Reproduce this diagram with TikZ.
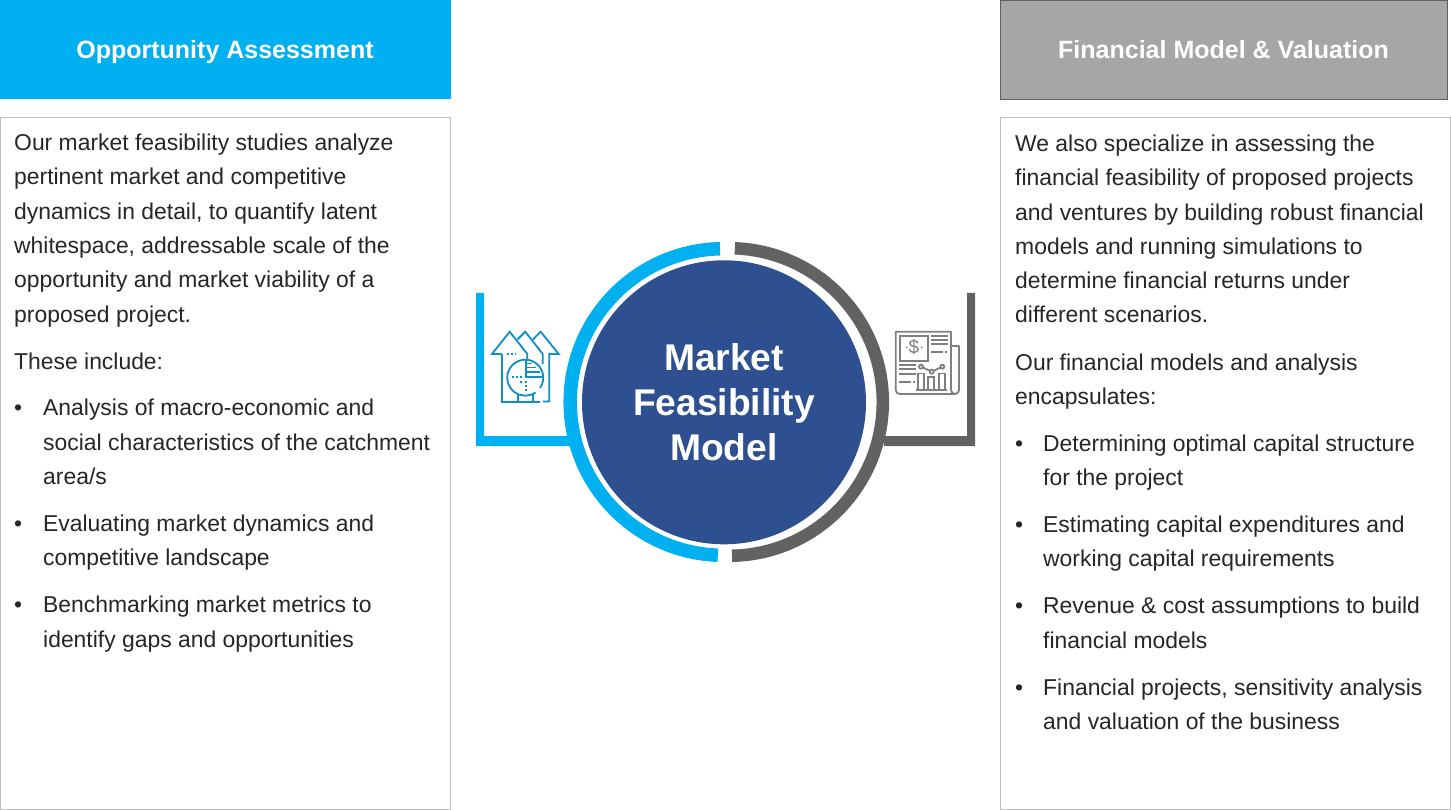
\documentclass[tikz,border=0pt]{standalone}
\usepackage{fontspec}
\setmainfont{Liberation Sans}
\definecolor{hblue}{HTML}{00B0F0}
\definecolor{hgray}{HTML}{A6A6A6}
\definecolor{navy}{HTML}{2E5090}
\definecolor{dgray}{HTML}{626262}
\definecolor{txt}{HTML}{262626}
\definecolor{edge}{HTML}{BFBFBF}
\definecolor{iblue}{HTML}{0F8FC8}
\definecolor{igray}{HTML}{7F7F7F}
\tikzset{
 x=1pt,y=-1pt,
 body/.style={anchor=base west,inner sep=0pt,text=txt,font=\fontsize{22.9}{34.3}\selectfont},
 head/.style={anchor=base,inner sep=0pt,text=white,font=\fontsize{25}{30}\selectfont\bfseries},
 panel/.style={draw=edge,fill=white,line width=1pt},
 ibl/.style={draw=iblue,line width=1.8pt},
 igr/.style={draw=igray,line width=1.8pt},
}
\begin{document}
\begin{tikzpicture}
\useasboundingbox (0,0) rectangle (1451,810);
\fill[white] (0,0) rectangle (1451,810);
% headers
\fill[hblue] (0,0) rectangle (451,99);
\node[head] (h1) at (225,58.7) {Opportunity Assessment};
\draw[draw=dgray,fill=hgray,line width=1pt] (1000.5,0.5) rectangle (1447.5,99.5);
\node[head] (h2) at (1223.5,58.7) {Financial Model \& Valuation};
% panels
\draw[panel] (0.5,117.5) rectangle (450.5,809.5);
\draw[panel] (1000.5,117.5) rectangle (1450.5,809.5);
% left text
\node[body] (a1) at (14,151) {Our market feasibility studies analyze};
\node[body] (a2) at (14,185) {pertinent market and competitive};
\node[body] (a3) at (14,220) {dynamics in detail, to quantify latent};
\node[body] (a4) at (14,254) {whitespace, addressable scale of the};
\node[body] (a5) at (14,288) {opportunity and market viability of a};
\node[body] (a6) at (14,323) {proposed project.};
\node[body] (a7) at (14,369) {These include:};
\node[body] (ab1) at (14,415) {•};
\node[body] (a8) at (43,415) {Analysis of macro-economic and};
\node[body] (a9) at (43,450) {social characteristics of the catchment};
\node[body] (a10) at (43,484) {area/s};
\node[body] (ab2) at (14,531) {•};
\node[body] (a11) at (43,531) {Evaluating market dynamics and};
\node[body] (a12) at (43,565) {competitive landscape};
\node[body] (ab3) at (14,612) {•};
\node[body] (a13) at (43,612) {Benchmarking market metrics to};
\node[body] (a14) at (43,647) {identify gaps and opportunities};
% right text
\node[body] (b1) at (1015,152) {We also specialize in assessing the};
\node[body] (b2) at (1015,186) {financial feasibility of proposed projects};
\node[body] (b3) at (1015,221) {and ventures by building robust financial};
\node[body] (b4) at (1015,255) {models and running simulations to};
\node[body] (b5) at (1015,289) {determine financial returns under};
\node[body] (b6) at (1015,323) {different scenarios.};
\node[body] (b7) at (1015,370) {Our financial models and analysis};
\node[body] (b8) at (1015,404) {encapsulates:};
\node[body] (bb1) at (1015,451) {•};
\node[body] (b9) at (1043,451) {Determining optimal capital structure};
\node[body] (b10) at (1043,485) {for the project};
\node[body] (bb2) at (1015,532) {•};
\node[body] (b11) at (1043,532) {Estimating capital expenditures and};
\node[body] (b12) at (1043,566) {working capital requirements};
\node[body] (bb3) at (1015,613) {•};
\node[body] (b13) at (1043,613) {Revenue \& cost assumptions to build};
\node[body] (b14) at (1043,648) {financial models};
\node[body] (bb4) at (1015,695) {•};
\node[body] (b15) at (1043,695) {Financial projects, sensitivity analysis};
\node[body] (b16) at (1043,729) {and valuation of the business};
% brackets
\fill[hblue] (476,293) -- (484,293) -- (484,436) -- (575,436) -- (575,446) -- (476,446) -- cycle;
\fill[dgray] (967,293) -- (975,293) -- (975,446) -- (884,446) -- (884,436) -- (967,436) -- cycle;
% rings
\coordinate (cb) at (723.5,402);
\coordinate (cg) at (729,402);
\draw[hblue,line width=13.5pt] ([shift={(-91.3:153.3)}]cb) arc[start angle=-91.3,end angle=-267.9,radius=153.3];
\draw[dgray,line width=12.5pt] ([shift={(-87.8:153.8)}]cg) arc[start angle=-87.8,end angle=88.9,radius=153.8];
% central disc
\node[circle,fill=navy,minimum size=284pt,inner sep=0pt,
      font=\fontsize{37.2}{45}\selectfont\bfseries,text=white,align=center] (c) at (724,402.3)
      {Market\\Feasibility\\Model};
% left icon
\draw[ibl] (501.7,354) -- (492,354) -- (509.7,331.7) -- (527.3,354) -- (527.3,360);
\draw[ibl] (517.5,339.5) -- (525.3,331.7) -- (542.7,354) -- (542.7,364);
\draw[ibl] (533,339.5) -- (540.7,331.7) -- (558.7,354) -- (549.3,354) -- (549.3,401.5) -- (543,401.5);
\draw[ibl] (501.7,354) -- (501.7,401.7) -- (540,401.7);
\draw[ibl] (540,388) arc[start angle=35,end angle=-305,radius=18] ;
\draw[ibl] (517.7,394) -- (517.7,401.7) (533.3,394) -- (533.3,401.7);
\draw[ibl] (526,360) -- (526,376.7) -- (542.7,376.7);
\draw[ibl] (526,363.5) -- (532,363.5) (526,367.5) -- (536,367.5) (526,372) -- (540,372);
\draw[ibl,dash pattern=on 2pt off 2pt] (507,354) -- (516,354) (511.7,377) -- (523,377) (525.7,381) -- (525.7,393) (520,382) -- (524,382);
% right icon
\draw[igr,line join=round] (895.7,331.7) -- (951,331.7) -- (951,346) -- (959,346) -- (959,390) arc[start angle=0,end angle=90,radius=4] -- (899.7,394) arc[start angle=90,end angle=180,radius=4] -- cycle;
\draw[igr] (951,346) -- (951,390) arc[start angle=180,end angle=90,radius=4];
\draw[igr] (900,336) rectangle (928.3,360.7);
\node[inner sep=0pt,text=igray,font=\fontsize{19}{19}\selectfont] (dollar) at (914,347.5) {\$};
\fill[igray] (906.7,347.3) circle[radius=1] (921.7,347.3) circle[radius=1];
\draw[igr] (931,336) -- (948,336) (931,340) -- (948,340) (931,344) -- (948,344) (931,352) -- (943,352) (945,352) -- (947,352);
\draw[igr] (899,365) -- (916,365) (899,369.3) -- (916,369.3) (899,373.7) -- (916,373.7) (899,381.7) -- (911,381.7) (913,381.7) -- (915,381.7);
\draw[igr] (921,366.7) -- (931.7,371.7) -- (942.3,366.7);
\foreach \p in {(921,366.7),(931.7,371.7),(942.3,366.7)} \draw[igr,fill=white] \p circle[radius=2];
\draw[igr] (918.3,390) -- (918.3,373.5) -- (924,373.5) -- (924,390);
\draw[igr] (928.3,390) -- (928.3,377) -- (934,377) -- (934,390);
\draw[igr] (939.3,390) -- (939.3,373.5) -- (945,373.5) -- (945,390);
\draw[igr] (916,390) -- (947.3,390);
\end{tikzpicture}
\end{document}
